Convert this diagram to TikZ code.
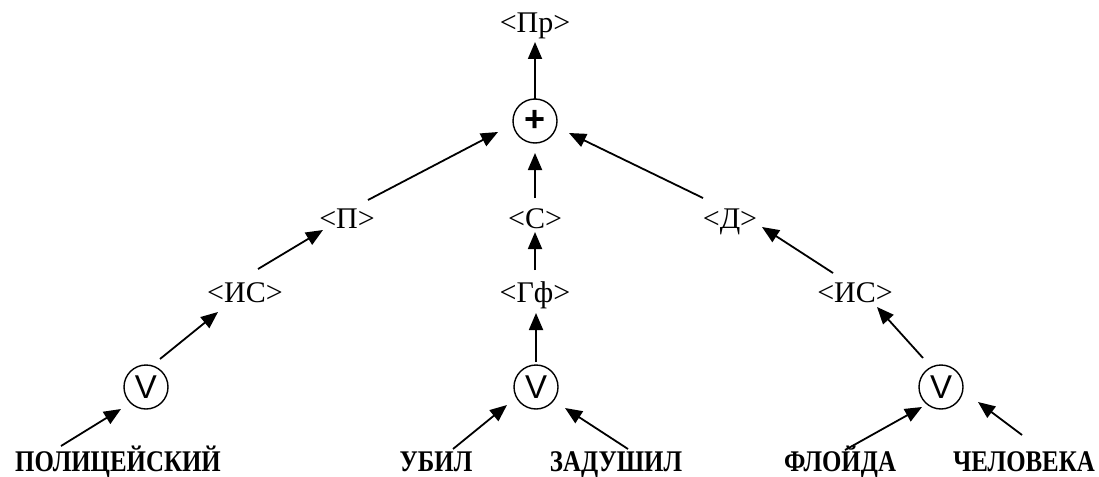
\documentclass[tikz,border=0pt]{standalone}
\usepackage{fontspec}
\usepackage{graphicx}
\setmainfont{Liberation Serif}
\newfontfamily\symfont{Liberation Sans}
\usetikzlibrary{arrows.meta}

\tikzset{
  lbl/.style={inner sep=0pt, text height=21pt, text depth=7pt, anchor=base,
              font=\fontsize{30}{34}\selectfont},
  word/.style={inner sep=0pt, anchor=base,
               font=\fontsize{30}{34}\selectfont\bfseries},
  op/.style={circle, draw, line width=1.4pt, minimum size=44pt, inner sep=0pt},
  arr/.style={line width=1.8pt, -{Triangle[length=17pt,width=14pt]}}
}
\newcommand{\narrow}[1]{\scalebox{0.83}[1]{#1}}

\begin{document}
\begin{tikzpicture}[x=1pt, y=-1pt]
\useasboundingbox (0,0) rectangle (1099,476);

% root and the joining operator
\node[lbl] (pr) at (535,33) {<Пр>};
\node[op, font=\symfont\bfseries\fontsize{36}{36}\selectfont] (plus) at (535,121) {+};

% constituents
\node[lbl] (p) at (347,228) {<П>};
\node[lbl] (s) at (535,228) {<С>};
\node[lbl] (d) at (730,228) {<Д>};
\node[lbl] (isl) at (245,302) {<ИС>};
\node[lbl] (gf) at (535,302) {<Гф>};
\node[lbl] (isr) at (855,302) {<ИС>};

% alternatives
\node[op, font=\symfont\fontsize{33}{33}\selectfont] (v1) at (146,387) {V};
\node[op, font=\symfont\fontsize{33}{33}\selectfont] (v2) at (536,387) {V};
\node[op, font=\symfont\fontsize{33}{33}\selectfont] (v3) at (941,387) {V};

% words
\node[word] (w1) at (118,471) {\narrow{ПОЛИЦЕЙСКИЙ}};
\node[word] (w2) at (436,471) {\narrow{УБИЛ}};
\node[word] (w3) at (616,471) {\narrow{ЗАДУШИЛ}};
\node[word] (w4) at (840,471) {\narrow{ФЛОЙДА}};
\node[word] (w5) at (1024,471) {\narrow{ЧЕЛОВЕКА}};

% connectors
\draw[arr] ([shift={(0,-22)}]plus.center) -- ([shift={(0,9)}]pr.base);
\draw[arr] ([shift={(21,-28)}]p.base) -- ([shift={(-37,11)}]plus.center);
\draw[arr] ([shift={(0,-30)}]s.base) -- ([shift={(0,32)}]plus.center);
\draw[arr] ([shift={(-27,-30)}]d.base) -- ([shift={(34,12)}]plus.center);

\draw[arr] ([shift={(13,-33)}]isl.base) -- ([shift={(-24,2)}]p.base);
\draw[arr] ([shift={(0,-32)}]gf.base) -- ([shift={(0,4)}]s.base);
\draw[arr] ([shift={(-22,-29)}]isr.base) -- ([shift={(32,-1)}]d.base);

\draw[arr] ([shift={(14,-28)}]v1.center) -- ([shift={(-27,10)}]isl.base);
\draw[arr] ([shift={(0,-25)}]v2.center) -- ([shift={(1,11)}]gf.base);
\draw[arr] ([shift={(-18,-29)}]v3.center) -- ([shift={(22,5)}]isr.base);

\draw[arr] ([shift={(-57,-25)}]w1.base) -- ([shift={(-25,22)}]v1.center);
\draw[arr] ([shift={(17,-22)}]w2.base) -- ([shift={(-29,18)}]v2.center);
\draw[arr] ([shift={(12,-22)}]w3.base) -- ([shift={(29,21)}]v2.center);
\draw[arr] ([shift={(5,-21)}]w4.base) -- ([shift={(-19,20)}]v3.center);
\draw[arr] ([shift={(-2,-36)}]w5.base) -- ([shift={(37,15)}]v3.center);
\end{tikzpicture}
\end{document}
